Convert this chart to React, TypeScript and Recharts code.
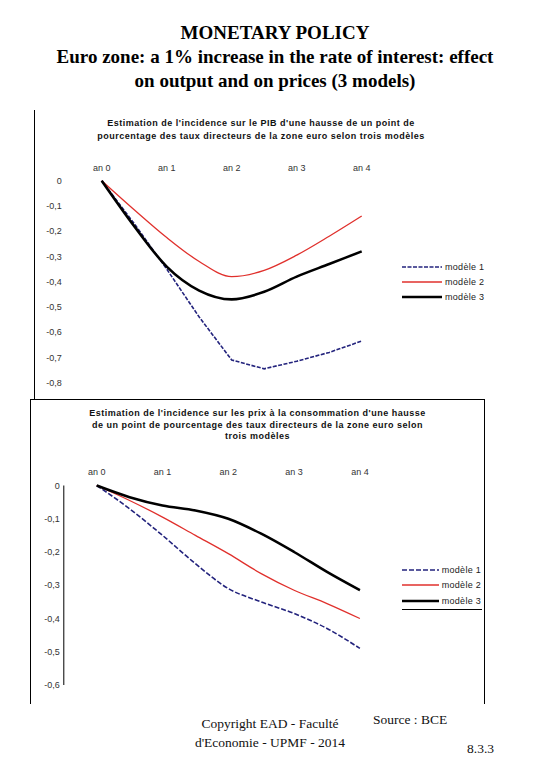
import React from "react";
import { LineChart, Line, XAxis, YAxis, Legend } from "recharts";

// années (semestres) et graduations
const YEARS = [0, 0.5, 1, 1.5, 2, 2.5, 3, 3.5, 4];
const YEAR_TICKS = [0, 1, 2, 3, 4];
const SERIES_NAMES = ["modèle 1", "modèle 2", "modèle 3"];

// incidence sur le PIB
const PIB_M1 = [0, -0.17, -0.35, -0.54, -0.71, -0.745, -0.715, -0.68, -0.635];
const PIB_M2 = [0, -0.115, -0.225, -0.32, -0.38, -0.355, -0.295, -0.22, -0.14];
const PIB_M3 = [0, -0.18, -0.34, -0.435, -0.47, -0.44, -0.38, -0.33, -0.28];
const PIB_TICKS = [0, -0.1, -0.2, -0.3, -0.4, -0.5, -0.6, -0.7, -0.8];

// incidence sur les prix à la consommation
const PRIX_M1 = [0, -0.07, -0.15, -0.235, -0.31, -0.35, -0.385, -0.43, -0.49];
const PRIX_M2 = [0, -0.045, -0.095, -0.15, -0.205, -0.265, -0.315, -0.355, -0.4];
const PRIX_M3 = [0, -0.035, -0.06, -0.075, -0.1, -0.145, -0.2, -0.26, -0.315];
const PRIX_TICKS = [0, -0.1, -0.2, -0.3, -0.4, -0.5, -0.6];

const pibData = YEARS.map((an, i) => ({ an, m1: PIB_M1[i], m2: PIB_M2[i], m3: PIB_M3[i] }));
const prixData = YEARS.map((an, i) => ({ an, m1: PRIX_M1[i], m2: PRIX_M2[i], m3: PRIX_M3[i] }));

const SANS = "'Liberation Sans', Arial, sans-serif";
const SERIF = "'Liberation Serif', 'Times New Roman', serif";

const fmtY = (v: number) => (v === 0 ? "0" : v.toFixed(1).replace(".", ","));
const fmtX = (v: number) => `an ${v}`;

const lineStyle: Record<string, { stroke: string; width: number; dash?: string }> = {
  m1: { stroke: "#23237d", width: 1.6, dash: "4 1.5" },
  m2: { stroke: "#e0302c", width: 1.3 },
  m3: { stroke: "#000000", width: 2.6 },
};

const LegendBox = ({ payload, sample, rowH, dash1 }: any) => (
  <div style={{ fontFamily: SANS, fontSize: 9, color: "#222", letterSpacing: 0.3 }}>
    {(payload || []).map((p: any) => {
      const st = lineStyle[p.dataKey];
      return (
        <div key={p.dataKey} style={{ height: rowH, display: "flex", alignItems: "center" }}>
          <svg width={sample} height={6} style={{ display: "block" }}>
            <line
              x1={0} y1={3} x2={sample} y2={3}
              stroke={st.stroke} strokeWidth={st.width}
              strokeDasharray={p.dataKey === "m1" ? dash1 : undefined}
            />
          </svg>
          <span style={{ marginLeft: 3 }}>{p.value}</span>
        </div>
      );
    })}
  </div>
);

const Lines = (dash1: string, smooth: boolean) =>
  ["m1", "m2", "m3"].map((k, i) => (
    <Line
      key={k}
      dataKey={k}
      name={SERIES_NAMES[i]}
      type={k === "m1" && !smooth ? "linear" : "monotone"}
      stroke={lineStyle[k].stroke}
      strokeWidth={lineStyle[k].width}
      strokeDasharray={k === "m1" ? dash1 : undefined}
      dot={false}
      activeDot={false}
      isAnimationActive={false}
    />
  ));

const tickStyle = { fontSize: 9, fill: "#333", fontFamily: SANS };

export default function App() {
  return (
    <div style={{ position: "absolute", left: 0, top: 0, width: 540, height: 780, background: "#fff" }}>
      {/* titre principal */}
      <div
        style={{
          position: "absolute", left: 5, top: 21, width: 540, textAlign: "center",
          fontFamily: SERIF, fontWeight: "bold", fontSize: 19, lineHeight: "24px", color: "#000",
        }}
      >
        MONETARY POLICY
        <br />
        Euro zone: a 1% increase in the rate of interest: effect
        <br />
        on output and on prices (3 models)
      </div>

      {/* cadres */}
      <div style={{ position: "absolute", left: 34, top: 110, width: 1, height: 289, background: "#000" }} />
      <div style={{ position: "absolute", left: 30, top: 399, width: 455, height: 1, background: "#000" }} />
      <div style={{ position: "absolute", left: 30, top: 399, width: 1, height: 305, background: "#000" }} />
      <div style={{ position: "absolute", left: 484, top: 399, width: 1, height: 305, background: "#000" }} />

      {/* graphique PIB */}
      <div
        style={{
          position: "absolute", left: 61, top: 117, width: 400, textAlign: "center",
          fontFamily: SANS, fontWeight: "bold", fontSize: 9, lineHeight: "12.5px", letterSpacing: 0.5, color: "#111",
        }}
      >
        Estimation de l'incidence sur le PIB d'une hausse de un point de
        <br />
        pourcentage des taux directeurs de la zone euro selon trois modèles
      </div>
      <div style={{ position: "absolute", left: 35, top: 100 }}>
        <LineChart width={450} height={300} data={pibData} margin={{ top: 60.7, right: 90.8, bottom: 17.3, left: 0 }}>
          <XAxis
            dataKey="an" type="number" orientation="top" domain={[-0.5, 4.5]} ticks={YEAR_TICKS}
            tickFormatter={fmtX} axisLine={false} tickLine={false} tickSize={0} tickMargin={10}
            height={20} tick={tickStyle}
          />
          <YAxis
            type="number" domain={[-0.8, 0]} ticks={PIB_TICKS} tickFormatter={fmtY}
            axisLine={false} tickLine={false} tickSize={0} tickMargin={7.5} width={34.2} tick={tickStyle}
          />
          <Legend
            layout="horizontal" align="center" verticalAlign="middle"
            wrapperStyle={{ left: 367, top: 159.5, width: 90, height: 46 }}
            content={(props: any) => <LegendBox {...props} sample={40} rowH={15} dash1="4 1.5" />}
          />
          {Lines("4 1.5", false)}
        </LineChart>
      </div>

      {/* graphique prix */}
      <div
        style={{
          position: "absolute", left: 57.5, top: 408, width: 400, textAlign: "center",
          fontFamily: SANS, fontWeight: "bold", fontSize: 9, lineHeight: "11.7px", letterSpacing: 0.5, color: "#111",
        }}
      >
        Estimation de l'incidence sur les prix à la consommation d'une hausse
        <br />
        de un point de pourcentage des taux directeurs de la zone euro selon
        <br />
        trois modèles
      </div>
      <div style={{ position: "absolute", left: 31, top: 400 }}>
        <LineChart width={450} height={300} data={prixData} margin={{ top: 65.5, right: 88.2, bottom: 15, left: 0 }}>
          <XAxis
            dataKey="an" type="number" orientation="top" domain={[-0.5, 4.5]} ticks={YEAR_TICKS}
            tickFormatter={fmtX} axisLine={false} tickLine={false} tickSize={0} tickMargin={11}
            height={20} tick={tickStyle}
          />
          <YAxis
            type="number" domain={[-0.6, 0]} ticks={PRIX_TICKS} tickFormatter={fmtY}
            axisLine={{ stroke: "#000", strokeWidth: 1 }} tickLine={false} tickSize={0} tickMargin={4}
            width={32.8} tick={tickStyle}
          />
          <Legend
            layout="horizontal" align="center" verticalAlign="middle"
            wrapperStyle={{ left: 370.7, top: 162, width: 90, height: 47 }}
            content={(props: any) => <LegendBox {...props} sample={37} rowH={15.5} dash1="5 2" />}
          />
          {Lines("5 2", true)}
        </LineChart>
      </div>
      <div style={{ position: "absolute", left: 402, top: 609, width: 80, height: 1, background: "#000" }} />

      {/* pied de page */}
      <div
        style={{
          position: "absolute", left: 170, top: 714, width: 200, textAlign: "center",
          fontFamily: SERIF, fontSize: 13.5, lineHeight: "19px", color: "#111",
        }}
      >
        Copyright EAD - Faculté
        <br />
        d'Economie - UPMF - 2014
      </div>
      <div style={{ position: "absolute", left: 373, top: 712, fontFamily: SERIF, fontSize: 13.5, color: "#111" }}>
        Source : BCE
      </div>
      <div style={{ position: "absolute", left: 467, top: 741, fontFamily: SERIF, fontSize: 13.5, color: "#111" }}>
        8.3.3
      </div>
    </div>
  );
}
